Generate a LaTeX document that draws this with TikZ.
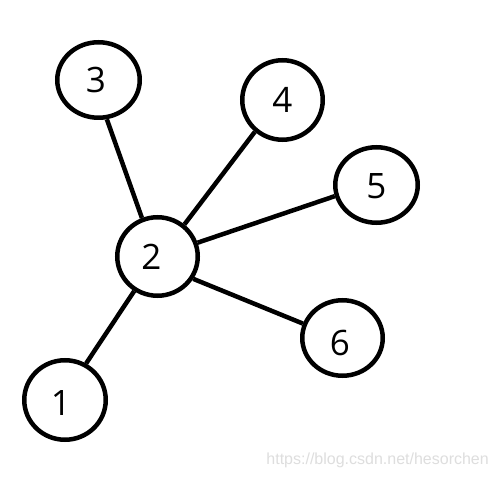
\documentclass[tikz,border=0pt]{standalone}
\usepackage{fontspec}
\setmainfont{Open Sans}
\newfontfamily\wmfont{Liberation Sans}
\usetikzlibrary{shapes.geometric}
\begin{document}
\begin{tikzpicture}[x=1pt,y=-1pt,
  vert/.style={draw,ellipse,line width=4.5pt,inner sep=0pt},
  num/.style={label={[font=\fontsize{35}{35}\selectfont,inner sep=0pt,#1]center:}},
  digit/.style={font=\fontsize{35}{35}\selectfont,inner sep=0pt},
  edge/.style={line width=4.5pt}]
\useasboundingbox[fill=white] (0,0) rectangle (498,478);
\node[vert,minimum width=82.5pt,minimum height=75.5pt] (n3) at (98.5,80) {};
\node[vert,minimum width=80.5pt,minimum height=79.5pt] (n4) at (282.5,100) {};
\node[vert,minimum width=82.5pt,minimum height=75.5pt] (n5) at (376.5,185) {};
\node[vert,minimum width=80.5pt,minimum height=78.5pt] (n2) at (157.5,256.5) {};
\node[vert,minimum width=80.5pt,minimum height=75.5pt] (n6) at (342.5,338) {};
\node[vert,minimum width=81.5pt,minimum height=79.5pt] (n1) at (65,400) {};
\node[digit] (t3) at ([shift={(-2.5,0)}]n3.center) {3};
\node[digit] (t4) at ([shift={(0,0)}]n4.center) {4};
\node[digit] (t5) at ([shift={(0,1)}]n5.center) {5};
\node[digit] (t2) at ([shift={(-6,0)}]n2.center) {2};
\node[digit] (t6) at ([shift={(-2.5,5)}]n6.center) {6};
\node[digit] (t1) at ([shift={(-4,3)}]n1.center) {1};
\draw[edge] (n3.-78) -- (n2.112);
\draw[edge] (n4.-131) -- (n2.50);
\draw[edge] (n5.-165) -- (n2.19);
\draw[edge] (n6.160) -- (n2.-32);
\draw[edge] (n1.60) -- (n2.-124);
\node[font=\wmfont\fontsize{16}{16}\selectfont,text=black!13,anchor=east,inner sep=0pt] (wm) at (489,460) {https://blog.csdn.net/hesorchen};
\end{tikzpicture}
\end{document}
